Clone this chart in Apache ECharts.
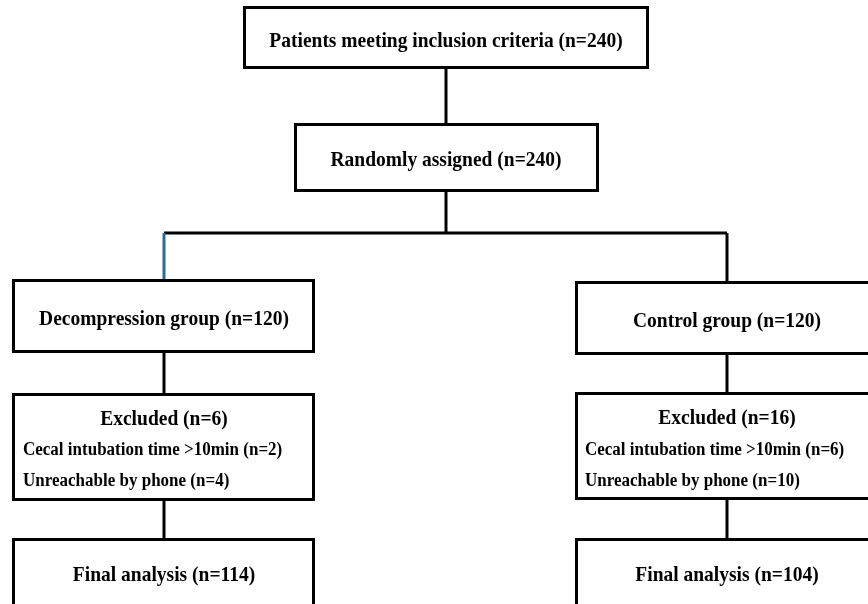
<!DOCTYPE html>
<html>
<head>
<meta charset="utf-8">
<script src="https://cdn.jsdelivr.net/npm/echarts@6/dist/echarts.min.js"></script>
<style>html,body{margin:0;padding:0;background:#fff;}#main{width:868px;height:604px;}</style>
</head>
<body>
<div id="main"></div>
<script>
// ---- data ----
const screenedN = 240;
const randomizedN = 240;
const groupNames = ['Decompression group', 'Control group'];
const groupN = [120, 120];
const excludedN = [6, 16];
const cecalN = [2, 6];
const phoneN = [4, 10];
const finalN = [114, 104];

// ---- layout (pixel space of an 868 x 604 canvas) ----
const W = 868, H = 604;
const colX = [164, 727];            // column centres
const colBox = [[12, 315], [575, 885]];
const topBox = [243, 6, 649, 69];
const randBox = [294, 123, 599, 192];
const groupBoxY = [[279, 353], [281, 355]];
const exclBoxY = [[393, 501], [392, 500]];
const finalBoxY = [[538, 640], [538, 640]];
const branchY = 233;
const textLeft = [23, 585];

const boxes = [];
const texts = [];
const bigFont = 'bold 19.5px "Liberation Serif", "Times New Roman", serif';
const smallFont = 'bold 17px "Liberation Serif", "Times New Roman", serif';

boxes.push(topBox);
texts.push({x: 446, y: 41, t: 'Patients meeting inclusion criteria (n=' + screenedN + ')', f: bigFont, a: 'center'});
boxes.push(randBox);
texts.push({x: 446, y: 160, t: 'Randomly assigned (n=' + randomizedN + ')', f: bigFont, a: 'center'});

for (let i = 0; i < 2; i++) {
  const [x0, x1] = colBox[i];
  boxes.push([x0, groupBoxY[i][0], x1, groupBoxY[i][1]]);
  boxes.push([x0, exclBoxY[i][0], x1, exclBoxY[i][1]]);
  boxes.push([x0, finalBoxY[i][0], x1, finalBoxY[i][1]]);
  texts.push({x: colX[i], y: (groupBoxY[i][0] + groupBoxY[i][1]) / 2 + 3, t: groupNames[i] + ' (n=' + groupN[i] + ')', f: bigFont, a: 'center'});
  texts.push({x: colX[i], y: exclBoxY[i][0] + 26, t: 'Excluded (n=' + excludedN[i] + ')', f: bigFont, a: 'center'});
  texts.push({x: textLeft[i], y: 450, t: 'Cecal intubation time >10min (n=' + cecalN[i] + ')', f: smallFont, a: 'left'});
  texts.push({x: textLeft[i], y: 481, t: 'Unreachable by phone (n=' + phoneN[i] + ')', f: smallFont, a: 'left'});
  texts.push({x: colX[i], y: 575, t: 'Final analysis (n=' + finalN[i] + ')', f: bigFont, a: 'center'});
}

const lines = [
  {p: [[446, 69], [446, 123]], c: '#000'},
  {p: [[446, 192], [446, branchY]], c: '#000'},
  {p: [[colX[0], branchY], [colX[1], branchY]], c: '#000'},
  {p: [[colX[0], branchY], [colX[0], groupBoxY[0][0]]], c: '#2a6e94'},
  {p: [[colX[1], branchY], [colX[1], groupBoxY[1][0]]], c: '#000'},
  {p: [[colX[0], groupBoxY[0][1]], [colX[0], exclBoxY[0][0]]], c: '#000'},
  {p: [[colX[1], groupBoxY[1][1]], [colX[1], exclBoxY[1][0]]], c: '#000'},
  {p: [[colX[0], exclBoxY[0][1]], [colX[0], finalBoxY[0][0]]], c: '#000'},
  {p: [[colX[1], exclBoxY[1][1]], [colX[1], finalBoxY[1][0]]], c: '#000'}
];

const chart = echarts.init(document.getElementById('main'));
chart.setOption({
  animation: false,
  backgroundColor: '#fff',
  grid: {left: 0, right: 0, top: 0, bottom: 0},
  xAxis: {type: 'value', min: 0, max: W, show: false},
  yAxis: {type: 'value', min: 0, max: H, inverse: true, show: false},
  series: [
    {
      type: 'custom', clip: false,
      data: lines.map((l, i) => [i]),
      renderItem: function (params, api) {
        const l = lines[api.value(0)];
        return {
          type: 'polyline',
          shape: {points: l.p.map(p => api.coord(p))},
          style: {stroke: l.c, lineWidth: 3, fill: null}
        };
      }
    },
    {
      type: 'custom', clip: false,
      data: boxes,
      renderItem: function (params, api) {
        const a = api.coord([api.value(0), api.value(1)]);
        const b = api.coord([api.value(2), api.value(3)]);
        return {
          type: 'rect',
          shape: {x: a[0] + 1.5, y: a[1] + 1.5, width: b[0] - a[0] - 3, height: b[1] - a[1] - 3},
          style: {fill: '#fff', stroke: '#000', lineWidth: 3}
        };
      }
    },
    {
      type: 'custom', clip: false,
      data: texts.map((t, i) => [t.x, t.y, i]),
      renderItem: function (params, api) {
        const t = texts[api.value(2)];
        const c = api.coord([api.value(0), api.value(1)]);
        return {
          type: 'text', z2: 10,
          x: c[0], y: c[1], scaleY: 1.1,
          style: {x: 0, y: 0, text: t.t, font: t.f, fill: '#000', textAlign: t.a, textVerticalAlign: 'middle'}
        };
      }
    }
  ]
});
</script>
</body>
</html>
